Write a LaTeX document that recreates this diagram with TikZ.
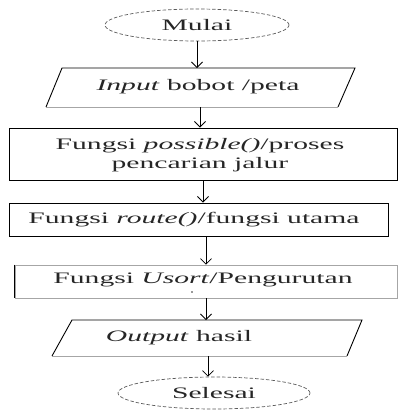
\documentclass[tikz,border=0pt]{standalone}
\usepackage{fontspec}
\setmainfont[FakeStretch=1.85]{Liberation Serif}
\usetikzlibrary{shapes.geometric,arrows.meta,calc}
\begin{document}
\begin{tikzpicture}[x=1pt,y=-1pt,
  txt/.style={font=\fontsize{16}{19}\selectfont, align=center, inner sep=0pt, text=black!85},
  term/.style={ellipse, draw=black!65, dashed, dash pattern=on 3.5pt off 2pt, line width=0.7pt, inner sep=0pt, txt},
  procbox/.style={rectangle, draw=black, line width=0.9pt, inner sep=0pt, txt},
  edgedark/.style={draw=black, line width=0.9pt},
  edgelight/.style={draw=black!35, line width=0.7pt},
  arr/.style={draw=black, line width=0.8pt, -{Straight Barb[length=5.5pt,width=11pt,line width=0.8pt]}}
]
\useasboundingbox (0,0) rectangle (399,410);

% Mulai
\node[term, minimum width=184pt, minimum height=32pt] (mulai) at (197,25) {Mulai};

% Input parallelogram
\coordinate (in-tl) at (62,68);
\coordinate (in-tr) at (355,68);
\coordinate (in-br) at (338,107);
\coordinate (in-bl) at (46,107);
\coordinate (in-t) at (200,68);
\coordinate (in-b) at (200,107);
\path[edgedark] (in-bl) -- (in-tl) -- (in-tr) -- (in-br);
\path[edgelight] (in-bl) -- (in-br);
\node[txt] (inp) at (198,87) {\textit{Input} bobot /peta};

% Possible box
\node[procbox, minimum width=388pt, minimum height=52pt] (poss) at (203,154) {};
\node[txt] (posstext) at (200,155) {Fungsi \textit{possible()}/proses\\pencarian jalur};

% Route box
\node[procbox, minimum width=379pt, minimum height=33pt] (route) at (198.5,219.5) {};
\node[txt] (routetext) at (194,220) {Fungsi \textit{route()}/fungsi utama};

% Usort box
\node[rectangle, edgelight, minimum width=382pt, minimum height=33pt, inner sep=0pt] (us) at (206,281.5) {};
\path[edgedark] (us.north west) -- (us.south west);
\node[txt] (ustext) at (203,280) {Fungsi \textit{Usort}/Pengurutan};
\coordinate (usdot) at (192,292);
\fill[black!80] (usdot) circle (0.8pt);

% Output parallelogram
\coordinate (out-tl) at (72,320);
\coordinate (out-tr) at (362,320);
\coordinate (out-br) at (347,356);
\coordinate (out-bl) at (52,356);
\coordinate (out-t) at (207,320);
\coordinate (out-b) at (208,356);
\path[edgedark] (out-bl) -- (out-tl) -- (out-tr) -- (out-br);
\path[edgelight] (out-bl) -- (out-br);
\node[txt] (outtext) at (179,338) {\textit{Output} hasil};

% Selesai
\node[term, minimum width=192pt, minimum height=32pt] (sel) at (214,393) {Selesai};

% Arrows
\draw[arr] (mulai.south) -- (mulai.south |- in-t);
\draw[arr] (in-b) -- (in-b |- poss.north);
\draw[arr] (poss.south) -- (poss.south |- route.north);
\draw[arr] (route.south -| us.north) -- (us.north);
\draw[arr] (us.south) -- (us.south |- out-t);
\draw[arr] (out-b) -- (out-b |- sel.north);
\end{tikzpicture}
\end{document}
